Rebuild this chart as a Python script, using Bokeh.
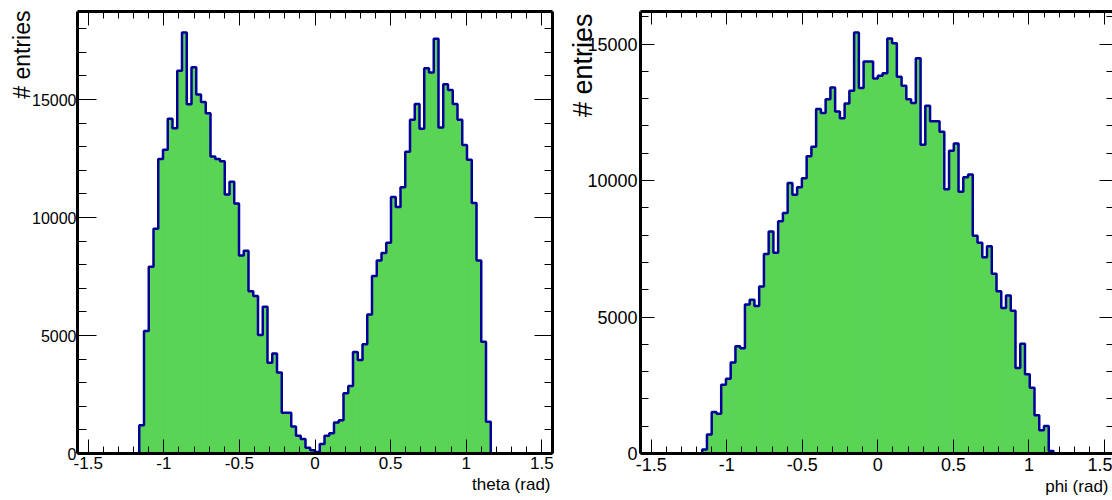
import math
from bokeh.plotting import figure
from bokeh.models import LinearAxis, SingleIntervalTicker, Range1d, Title
from bokeh.layouts import row
from bokeh.embed import file_html
from bokeh.resources import INLINE

# ---------------- data ----------------
n_bins = 100
x_lo = -math.pi / 2
x_hi = math.pi / 2

theta_counts = [
    0, 0, 0, 0, 0, 0, 0, 0, 0, 0,
    0, 0, 0, 1200, 5190, 7910, 9530, 12480, 12870, 14190,
    13780, 16220, 17840, 14800, 16370, 15210, 14900, 14420, 12590, 12480,
    12390, 10980, 11520, 10600, 8390, 8590, 6880, 6670, 5020, 6220,
    3850, 4240, 3430, 1730, 1730, 1140, 750, 610, 240, 140,
    60, 400, 750, 860, 1310, 1410, 2550, 2860, 4300, 3960,
    4630, 5890, 7520, 8180, 8500, 8930, 10870, 10450, 11280, 12790,
    14140, 14810, 13760, 16330, 16150, 17580, 13820, 15650, 15410, 14810,
    14140, 13070, 12450, 10620, 8180, 4740, 1350, 0, 0, 0,
    0, 0, 0, 0, 0, 0, 0, 0, 0, 0,
]

phi_counts = [
    0, 0, 0, 0, 0, 0, 0, 0, 0, 0,
    0, 0, 0, 150, 700, 1520, 1460, 2520, 2740, 3330,
    3930, 3860, 5460, 5630, 5400, 6120, 7310, 8130, 7350, 8510,
    8810, 9910, 9480, 9750, 10080, 10890, 11240, 12620, 12470, 12980,
    13410, 12530, 12280, 12820, 13290, 15420, 13390, 14360, 14360, 13740,
    13840, 13930, 15200, 15030, 13800, 13470, 12980, 12840, 14480, 11310,
    12740, 12170, 12170, 11790, 9680, 11090, 11360, 9590, 10120, 10220,
    7980, 7720, 7190, 7590, 6580, 5940, 5330, 5790, 5230, 3130,
    4020, 2900, 2410, 1400, 850, 1010, 90, 0, 0, 0,
    0, 0, 0, 0, 0, 0, 0, 0, 0, 0,
]

x_tick_values = [-1.5, -1, -0.5, 0, 0.5, 1, 1.5]
x_tick_labels = ["-1.5", "-1", "-0.5", "0", "0.5", "1", "1.5"]
y_major_step = 5000
x_major_step = 0.5

theta_title = "theta (rad)"
phi_title = "phi (rad)"
y_title = "# entries"

FILL = "#59d454"
LINE = "#000099"
FONT = "Liberation Sans"

edges = [x_lo + i * (x_hi - x_lo) / n_bins for i in range(n_bins + 1)]


def style_axis(ax, tick_in, minor_in, labels, font_size="16px", standoff=2,
               line=True):
    ax.axis_label = None
    ax.axis_line_color = "black" if line else None
    ax.axis_line_width = 3
    ax.major_tick_in = tick_in
    ax.major_tick_out = 0
    ax.minor_tick_in = minor_in
    ax.minor_tick_out = 0
    ax.major_tick_line_color = "black"
    ax.major_tick_line_width = 1
    ax.minor_tick_line_color = "black"
    ax.minor_tick_line_width = 1
    if labels:
        ax.major_label_text_font = FONT
        ax.major_label_text_font_size = font_size
        ax.major_label_text_color = "black"
        ax.major_label_standoff = standoff
    else:
        ax.major_label_text_font_size = "1px"
        ax.major_label_standoff = 0
        ax.major_label_text_alpha = 0


def make_panel(counts, width, height, bl, br, bt, bb, xr, cfg):
    ymax = 1.05 * max(counts)
    p = figure(width=width, height=height, output_backend="svg",
               toolbar_location=None, x_range=Range1d(*xr),
               y_range=Range1d(0, ymax), min_border_left=bl,
               min_border_right=br, min_border_top=bt, min_border_bottom=bb)
    p.outline_line_color = None
    p.grid.visible = False
    p.background_fill_color = "white"
    p.border_fill_color = "white"

    p.quad(left=edges[:-1], right=edges[1:], bottom=0, top=counts,
           fill_color=FILL, line_color=FILL, line_width=1)
    p.step(x=edges, y=counts + [counts[-1]], mode="after",
           line_color=LINE, line_width=2.5)

    xa = p.xaxis[0]
    xa.ticker = SingleIntervalTicker(interval=x_major_step, num_minor_ticks=5)
    xa.major_label_overrides = dict(zip(x_tick_values, x_tick_labels))
    style_axis(xa, 14, 7, True, cfg["x_label_size"], cfg["x_standoff"])
    ya = p.yaxis[0]
    ya.ticker = SingleIntervalTicker(interval=y_major_step, num_minor_ticks=5)
    style_axis(ya, cfg["y_tick"][0], cfg["y_tick"][1], True,
               cfg["y_label_size"], cfg["y_standoff"])

    top = LinearAxis(ticker=SingleIntervalTicker(interval=x_major_step,
                                                 num_minor_ticks=5))
    style_axis(top, cfg["top_tick"][0], cfg["top_tick"][1], False)
    p.add_layout(top, "above")
    right = LinearAxis(ticker=SingleIntervalTicker(interval=y_major_step,
                                                   num_minor_ticks=5))
    style_axis(right, cfg["right_tick"][0], cfg["right_tick"][1], False,
               line=cfg["right_line"])
    p.add_layout(right, "right")

    yt = Title(text=y_title, align="right", vertical_align="bottom",
               standoff=cfg["ytitle_standoff"], offset=cfg["ytitle_offset"],
               text_font=FONT, text_font_size=cfg["y_title_size"],
               text_font_style="normal", text_color="black")
    p.add_layout(yt, "left")
    xt = Title(text=cfg["x_title"], align="right", vertical_align="bottom",
               standoff=cfg["xtitle_standoff"], offset=cfg["xtitle_offset"],
               text_font=FONT, text_font_size="17px",
               text_font_style="normal", text_color="black")
    p.add_layout(xt, "below")
    return p


cfg1 = dict(x_label_size="17px", x_standoff=3, y_label_size="16px",
            y_standoff=1, y_tick=(19, 9), top_tick=(14, 7),
            right_tick=(18, 8), right_line=True, y_title_size="23px",
            ytitle_standoff=-11, ytitle_offset=-1, x_title=theta_title,
            xtitle_standoff=3, xtitle_offset=2)
cfg2 = dict(x_label_size="18px", x_standoff=4, y_label_size="18px",
            y_standoff=3, y_tick=(14, 8), top_tick=(13, 6),
            right_tick=(13, 6), right_line=False, y_title_size="27px",
            ytitle_standoff=-27, ytitle_offset=2, x_title=phi_title,
            xtitle_standoff=3, xtitle_offset=4)

split = 565
p1 = make_panel(theta_counts, split, 500, 77, split - 552, 11, 47,
                (x_lo, x_hi), cfg1)
p2 = make_panel(phi_counts, 1112 - split, 500, 640 - split, 0, 11, 47,
                (x_lo, 1.553), cfg2)

layout = row(p1, p2)
open("out.html", "w").write(file_html(layout, INLINE))
